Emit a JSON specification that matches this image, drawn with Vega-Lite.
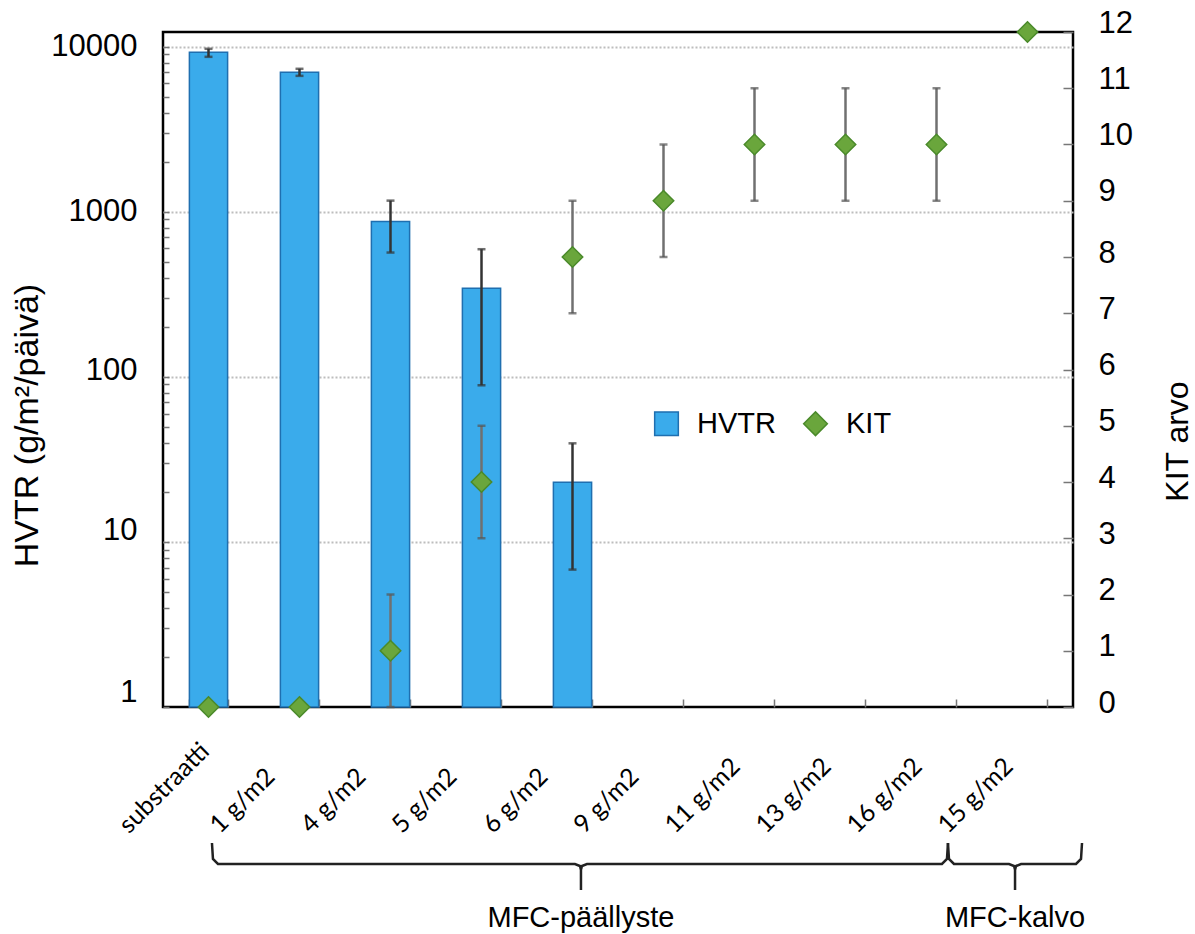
{
  "$schema": "https://vega.github.io/schema/vega-lite/v6.json",
  "width": 910,
  "height": 675,
  "autosize": {"type": "none"},
  "padding": {"left": 163, "top": 32, "right": 122, "bottom": 227},
  "background": "white",
  "config": {
    "font": "Liberation Sans",
    "view": {"stroke": "black", "strokeWidth": 2.5},
    "axis": {"domain": false, "labelColor": "black", "titleColor": "black", "titleFontWeight": "normal"}
  },
  "datasets": {
    "main": [
      {"cat": "substraatti", "hvtr": 9270, "hLo": 8700, "hHi": 9730, "kit": 0, "kLo": null, "kHi": null},
      {"cat": "1 g/m2", "hvtr": 7020, "hLo": 6670, "hHi": 7360, "kit": 0, "kLo": null, "kHi": null},
      {"cat": "4 g/m2", "hvtr": 873, "hLo": 567, "hHi": 1170, "kit": 1, "kLo": 0, "kHi": 2},
      {"cat": "5 g/m2", "hvtr": 345, "hLo": 89, "hHi": 594, "kit": 4, "kLo": 3, "kHi": 5},
      {"cat": "6 g/m2", "hvtr": 23, "hLo": 6.8, "hHi": 39.6, "kit": 8, "kLo": 7, "kHi": 9},
      {"cat": "9 g/m2", "hvtr": null, "hLo": null, "hHi": null, "kit": 9, "kLo": 8, "kHi": 10},
      {"cat": "11 g/m2", "hvtr": null, "hLo": null, "hHi": null, "kit": 10, "kLo": 9, "kHi": 11},
      {"cat": "13 g/m2", "hvtr": null, "hLo": null, "hHi": null, "kit": 10, "kLo": 9, "kHi": 11},
      {"cat": "16 g/m2", "hvtr": null, "hLo": null, "hHi": null, "kit": 10, "kLo": 9, "kHi": 11},
      {"cat": "15 g/m2", "hvtr": null, "hLo": null, "hHi": null, "kit": 12, "kLo": null, "kHi": null}
    ],
    "brace": [
      {"b": 1, "i": 0, "bx": 0.538, "by": -136},
      {"b": 1, "i": 1, "bx": 0.549, "by": -152},
      {"b": 1, "i": 2, "bx": 0.604, "by": -157},
      {"b": 1, "i": 3, "bx": 4.527, "by": -157},
      {"b": 1, "i": 4, "bx": 4.582, "by": -159},
      {"b": 1, "i": 5, "bx": 4.593, "by": -162},
      {"b": 1, "i": 6, "bx": 4.604, "by": -159},
      {"b": 1, "i": 7, "bx": 4.659, "by": -157},
      {"b": 1, "i": 8, "bx": 8.56, "by": -157},
      {"b": 1, "i": 9, "bx": 8.615, "by": -152},
      {"b": 1, "i": 10, "bx": 8.626, "by": -136},
      {"b": 2, "i": 0, "bx": 8.626, "by": -136},
      {"b": 2, "i": 1, "bx": 8.637, "by": -152},
      {"b": 2, "i": 2, "bx": 8.692, "by": -157},
      {"b": 2, "i": 3, "bx": 9.297, "by": -157},
      {"b": 2, "i": 4, "bx": 9.352, "by": -159},
      {"b": 2, "i": 5, "bx": 9.363, "by": -162},
      {"b": 2, "i": 6, "bx": 9.374, "by": -159},
      {"b": 2, "i": 7, "bx": 9.429, "by": -157},
      {"b": 2, "i": 8, "bx": 10.033, "by": -157},
      {"b": 2, "i": 9, "bx": 10.088, "by": -152},
      {"b": 2, "i": 10, "bx": 10.099, "by": -136}
    ],
    "ann": [
      {"bx": 4.593, "y1": -160, "y2": -183, "ty": -211, "label": "MFC-päällyste"},
      {"bx": 9.363, "y1": -160, "y2": -183, "ty": -211, "label": "MFC-kalvo"}
    ]
  },
  "layer": [
    {
      "data": {"name": "main"},
      "layer": [
        {
          "layer": [
            {
              "mark": {"type": "bar"},
              "encoding": {
                "x": {
                  "field": "cat", "type": "nominal",
                  "scale": {"domain": ["substraatti", "1 g/m2", "4 g/m2", "5 g/m2", "6 g/m2", "9 g/m2", "11 g/m2", "13 g/m2", "16 g/m2", "15 g/m2"], "paddingInner": 0.58, "paddingOuter": 0.29},
                  "axis": {
                    "title": null, "grid": false, "tickBand": "extent", "tickSize": -8, "tickColor": "#777", "tickWidth": 1.5,
                    "labelAngle": -45, "labelAlign": "left", "labelBaseline": "alphabetic", "labelOffset": -80, "labelPadding": 135,
                    "labelFont": "Lato", "labelFontSize": 25, "labelOverlap": false, "labelBound": false, "labelFlush": false
                  }
                },
                "y": {
                  "field": "hvtr", "type": "quantitative",
                  "scale": {"type": "log", "domain": [1, 12300], "nice": false},
                  "axis": {
                    "orient": "left", "title": "HVTR (g/m²/päivä)", "format": "d",
                    "values": [1, 2, 3, 4, 5, 6, 7, 8, 9, 10, 20, 30, 40, 50, 60, 70, 80, 90, 100, 200, 300, 400, 500, 600, 700, 800, 900, 1000, 2000, 3000, 4000, 5000, 6000, 7000, 8000, 9000, 10000],
                    "labelExpr": "(datum.value==1||datum.value==10||datum.value==100||datum.value==1000||datum.value==10000) ? datum.label : ''",
                    "labelFontSize": 31, "labelPadding": 32,
                    "labelOffset": {"condition": [{"test": "datum.value==1", "value": -15}, {"test": "datum.value==10", "value": -11}, {"test": "datum.value==100", "value": -6}], "value": 0},
                    "tickSize": -6, "tickColor": "#777", "tickWidth": 1.5,
                    "grid": true, "gridColor": "#bdbdbd", "gridDash": [2, 2], "gridWidth": 2,
                    "gridOpacity": {"condition": {"test": "datum.value==10||datum.value==100||datum.value==1000||datum.value==10000", "value": 1}, "value": 0},
                    "titleFontSize": 34, "titleAngle": -90, "titleAlign": "center", "titleBaseline": "middle", "titleX": -136, "titleY": 393
                  }
                },
                "y2": {"datum": 1},
                "color": {
                  "datum": "HVTR",
                  "scale": {"domain": ["HVTR", "KIT"], "range": ["#3aabeb", "#6aa63c"]},
                  "legend": {
                    "title": null, "orient": "none", "legendX": 489, "legendY": 377, "direction": "horizontal",
                    "symbolSize": 560, "labelFontSize": 29, "labelFont": "Liberation Sans", "labelColor": "black",
                    "labelOffset": 16, "columnPadding": 24, "symbolStrokeWidth": 1.5,
                    "symbolType": {"expr": "datum.value === 'KIT' ? 'diamond' : 'square'"},
                    "symbolStrokeColor": {"expr": "datum.value === 'KIT' ? '#4a8a2a' : '#1f6fb0'"}
                  }
                }
              }
            },
            {
              "mark": {"type": "bar", "filled": false, "stroke": "#1f6fb0", "strokeWidth": 1.5},
              "encoding": {
                "x": {"field": "cat", "type": "nominal"},
                "y": {"field": "hvtr", "type": "quantitative"},
                "y2": {"datum": 1}
              }
            },
            {
              "mark": {"type": "rule", "color": "#333", "strokeWidth": 2.5},
              "encoding": {
                "x": {"field": "cat", "type": "nominal"},
                "y": {"field": "hLo", "type": "quantitative"},
                "y2": {"field": "hHi"}
              }
            },
            {
              "mark": {"type": "tick", "color": "#333", "size": 8, "thickness": 2.5},
              "encoding": {
                "x": {"field": "cat", "type": "nominal"},
                "y": {"field": "hLo", "type": "quantitative"}
              }
            },
            {
              "mark": {"type": "tick", "color": "#333", "size": 8, "thickness": 2.5},
              "encoding": {
                "x": {"field": "cat", "type": "nominal"},
                "y": {"field": "hHi", "type": "quantitative"}
              }
            }
          ]
        },
        {
          "layer": [
            {
              "mark": {"type": "rule", "color": "#707070", "strokeWidth": 2.5},
              "encoding": {
                "x": {"field": "cat", "type": "nominal"},
                "y": {
                  "field": "kLo", "type": "quantitative",
                  "scale": {"domain": [0, 12], "nice": false},
                  "axis": {
                    "orient": "right", "title": "KIT arvo", "values": [0, 1, 2, 3, 4, 5, 6, 7, 8, 9, 10, 11, 12], "format": "d",
                    "labelFontSize": 31, "labelPadding": 35,
                    "labelOffset": {"condition": {"test": "datum.value >= 9", "value": -9}, "value": -4},
                    "tickSize": -10, "tickColor": "#777", "tickWidth": 1.5, "grid": false,
                    "titleFontSize": 32, "titleAngle": -90, "titleAlign": "center", "titleBaseline": "middle", "titleX": 104, "titleY": 409
                  }
                },
                "y2": {"field": "kHi"}
              }
            },
            {
              "mark": {"type": "tick", "color": "#555", "size": 8, "thickness": 2.5},
              "encoding": {
                "x": {"field": "cat", "type": "nominal"},
                "y": {"field": "kLo", "type": "quantitative"}
              }
            },
            {
              "mark": {"type": "tick", "color": "#555", "size": 8, "thickness": 2.5},
              "encoding": {
                "x": {"field": "cat", "type": "nominal"},
                "y": {"field": "kHi", "type": "quantitative"}
              }
            },
            {
              "mark": {"type": "point", "shape": "diamond", "filled": true, "size": 420, "opacity": 1},
              "encoding": {
                "x": {"field": "cat", "type": "nominal"},
                "y": {"field": "kit", "type": "quantitative"},
                "color": {"datum": "KIT"}
              }
            },
            {
              "mark": {"type": "point", "shape": "diamond", "filled": false, "size": 420, "opacity": 1, "stroke": "#4a8a2a", "strokeWidth": 1.5},
              "encoding": {
                "x": {"field": "cat", "type": "nominal"},
                "y": {"field": "kit", "type": "quantitative"}
              }
            }
          ]
        }
      ],
      "resolve": {"scale": {"y": "independent"}}
    },
    {
      "layer": [
        {
          "data": {"name": "brace"},
          "mark": {"type": "line", "color": "#222", "strokeWidth": 2.5, "clip": false},
          "encoding": {
            "x": {"field": "bx", "type": "quantitative", "scale": {"domain": [0, 10], "nice": false, "zero": false}, "axis": null},
            "y": {"field": "by", "type": "quantitative", "scale": {"domain": [0, 675], "nice": false, "zero": false}, "axis": null},
            "detail": {"field": "b", "type": "nominal"},
            "order": {"field": "i", "type": "quantitative"}
          }
        },
        {
          "data": {"name": "ann"},
          "mark": {"type": "rule", "color": "#222", "strokeWidth": 2.5},
          "encoding": {
            "x": {"field": "bx", "type": "quantitative", "scale": {"domain": [0, 10], "nice": false, "zero": false}, "axis": null},
            "y": {"field": "y1", "type": "quantitative", "scale": {"domain": [0, 675], "nice": false, "zero": false}, "axis": null},
            "y2": {"field": "y2"}
          }
        },
        {
          "data": {"name": "ann"},
          "mark": {"type": "text", "fontSize": 29, "font": "Liberation Sans", "align": "center", "baseline": "middle", "color": "black"},
          "encoding": {
            "x": {"field": "bx", "type": "quantitative", "scale": {"domain": [0, 10], "nice": false, "zero": false}, "axis": null},
            "y": {"field": "ty", "type": "quantitative", "scale": {"domain": [0, 675], "nice": false, "zero": false}, "axis": null},
            "text": {"field": "label", "type": "nominal"}
          }
        }
      ]
    }
  ],
  "resolve": {"scale": {"x": "independent", "y": "independent"}}
}
